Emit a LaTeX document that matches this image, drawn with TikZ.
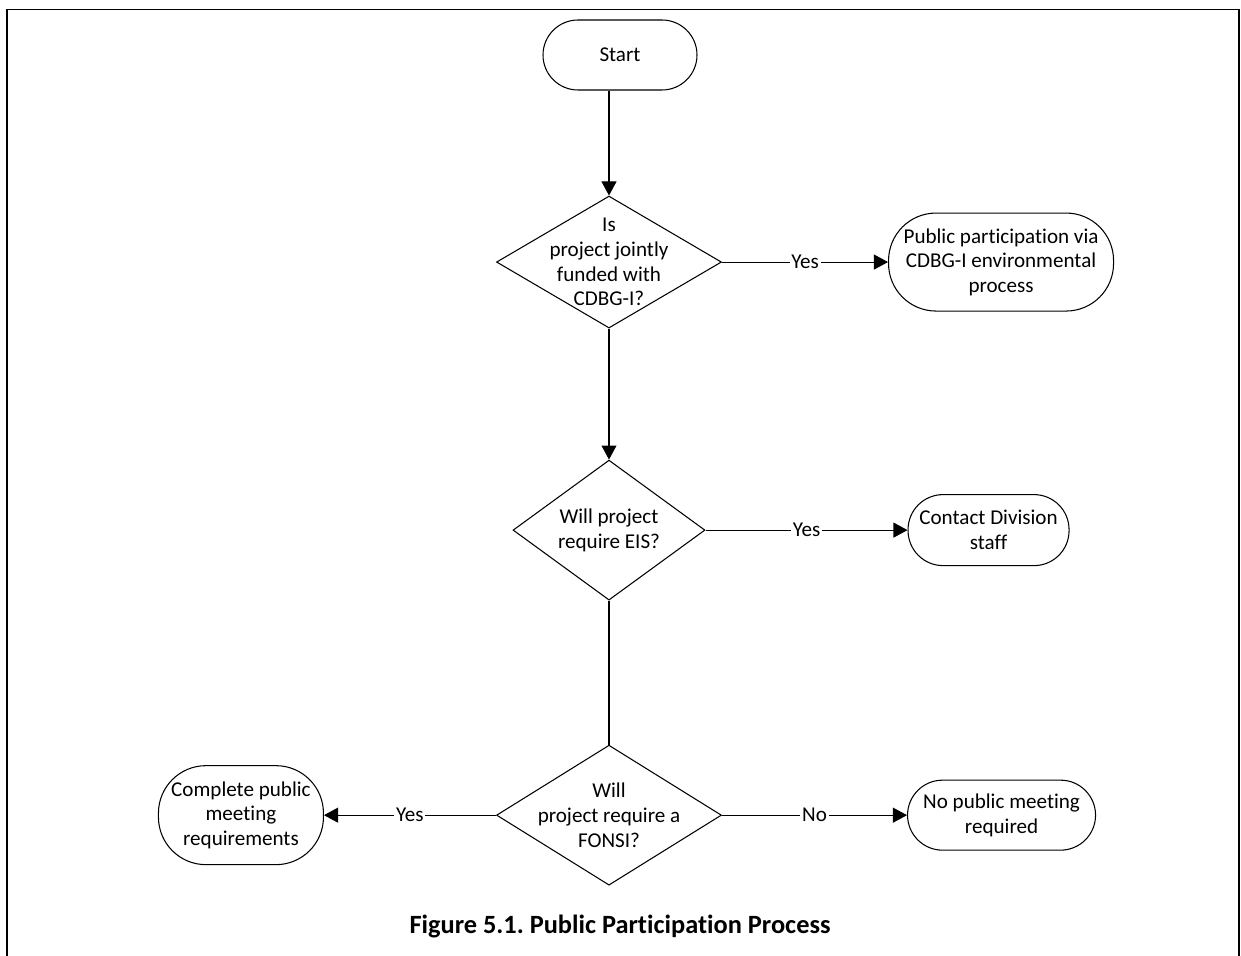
\documentclass[tikz,border=0pt]{standalone}
\usepackage{fontspec}
\setmainfont{Carlito}[Ligatures=NoCommon]
\usetikzlibrary{arrows.meta,positioning,shapes.geometric}
\frenchspacing

\begin{document}
\begin{tikzpicture}[
  font=\fontsize{12}{14}\selectfont,
  term/.style={draw, rounded corners=0.7cm, align=center, inner sep=2pt, line width=0.6pt},
  tall/.style={rounded corners=0.95cm},
  decision/.style={draw, diamond, inner sep=0pt, line width=0.6pt},
  arr/.style={-{Triangle[length=8pt,width=8.5pt]}, line width=0.6pt},
  lnk/.style={line width=0.6pt},
  tag/.style={fill=white, inner sep=1pt}
]
  \useasboundingbox (0,0) rectangle (24.82,-19.12);
  % page frame, open at the bottom
  \draw[line width=1.1pt] (0.14,-19.4) |- (24.78,-0.19) -- (24.78,-19.4);

  \node[term, minimum width=3.08cm, minimum height=1.4cm] (start) at (12.4,-1.1) {Start};
  \node[decision, minimum width=4.5cm, minimum height=2.64cm, below=2.1cm of start, xshift=-0.22cm,
        label={[align=center]center:Is\\project jointly\\funded with\\CDBG-I?}] (joint) {};
  \node[term, tall, minimum width=4.5cm, minimum height=1.96cm, right=3.32cm of joint] (cdbg)
    {Public participation via\\CDBG-I environmental\\process};
  \node[decision, minimum width=3.84cm, minimum height=2.8cm, below=2.62cm of joint,
        label={[align=center]center:Will project\\require EIS?}] (eis) {};
  \node[term, minimum width=3.22cm, minimum height=1.42cm, right=4.04cm of eis] (contact)
    {Contact Division\\staff};
  \node[decision, minimum width=4.5cm, minimum height=2.8cm, below=2.88cm of eis,
        label={[align=center]center:Will\\project require a\\FONSI?}] (fonsi) {};
  \node[term, tall, minimum width=3.3cm, minimum height=1.98cm, left=3.44cm of fonsi] (meet)
    {Complete public\\meeting\\requirements};
  \node[term, minimum width=3.76cm, minimum height=1.4cm, right=3.7cm of fonsi] (nomeet)
    {No public meeting\\required};

  \node[font=\bfseries\fontsize{15}{18}\selectfont] (caption) at (12.4,-18.52)
    {Figure 5.1. Public Participation Process};

  \draw[arr] (start.south -| joint.north) -- (joint.north);
  \draw[arr] (joint) -- node[tag] {Yes} (cdbg);
  \draw[arr] (joint) -- (eis);
  \draw[arr] (eis) -- node[tag] {Yes} (contact);
  \draw[lnk] (eis) -- (fonsi);
  \draw[arr] (fonsi) -- node[tag] {Yes} (meet);
  \draw[arr] (fonsi) -- node[tag] {No} (nomeet);
\end{tikzpicture}
\end{document}
